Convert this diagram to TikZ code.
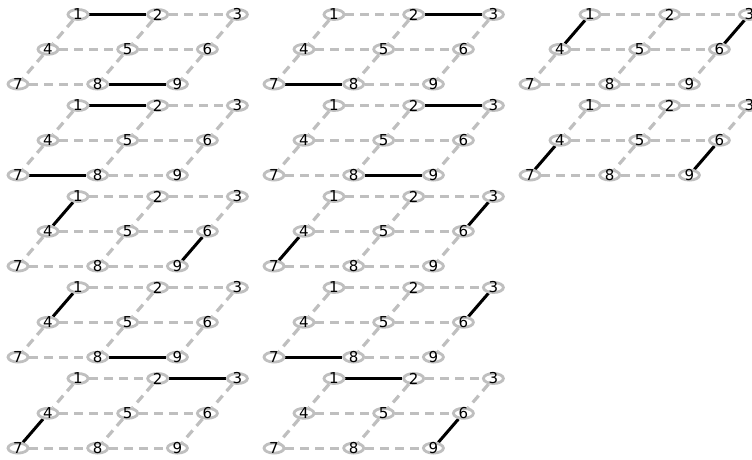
\documentclass[tikz,border=0pt]{standalone}
\usepackage{fontspec}
\setmainfont{DejaVu Sans}
\usetikzlibrary{shapes.geometric,backgrounds}
\definecolor{gris}{HTML}{BFBFBF}
\tikzset{
  vertice/.style={ellipse,draw=gris,line width=2.8pt,minimum width=20pt,minimum height=10pt,inner sep=0pt,
    label={[font=\fontsize{15}{15}\selectfont,inner sep=0pt]center:#1}},
  arista/.style={draw=gris,line width=3.2pt,dash pattern=on 9pt off 6pt},
  emparejada/.style={draw=black,line width=3pt,preaction={draw=white,line width=3.8pt}},
}

\begin{document}
\begin{tikzpicture}[x=1pt,y=-1pt]
  \clip (0,0) rectangle (752,459);
  % rejilla 3x3 inclinada; #4 = aristas del emparejamiento
  \newcommand{\tablero}[4]{% #1 columna, #2 fila, #3 nombre, #4 aristas en negro
    \begin{scope}[shift={({256*#1},{91*#2})}]
      \foreach \r in {0,1,2}{
        \foreach \c in {0,1,2}{
          \pgfmathtruncatemacro{\k}{3*\r+\c+1}
          \node[vertice=\k] (#3\k) at ({78+79.7*\c-30*\r},{14.5+34.8*\r}) {};
        }
      }
      \begin{pgfonlayer}{background}
        \foreach \a/\b in {1/2,2/3,4/5,5/6,7/8,8/9,1/4,4/7,2/5,5/8,3/6,6/9}
          \draw[arista] (#3\a) -- (#3\b);
        \foreach \a/\b in {#4}
          \draw[emparejada] (#3\a) -- (#3\b);
      \end{pgfonlayer}
    \end{scope}}
  \tablero{0}{0}{a}{1/2,8/9}
  \tablero{0}{1}{b}{1/2,7/8}
  \tablero{0}{2}{c}{1/4,6/9}
  \tablero{0}{3}{d}{1/4,8/9}
  \tablero{0}{4}{e}{2/3,4/7}
  \tablero{1}{0}{f}{2/3,7/8}
  \tablero{1}{1}{g}{2/3,8/9}
  \tablero{1}{2}{h}{3/6,4/7}
  \tablero{1}{3}{i}{3/6,7/8}
  \tablero{1}{4}{j}{1/2,6/9}
  \tablero{2}{0}{k}{1/4,3/6}
  \tablero{2}{1}{l}{4/7,6/9}
\end{tikzpicture}
\end{document}
